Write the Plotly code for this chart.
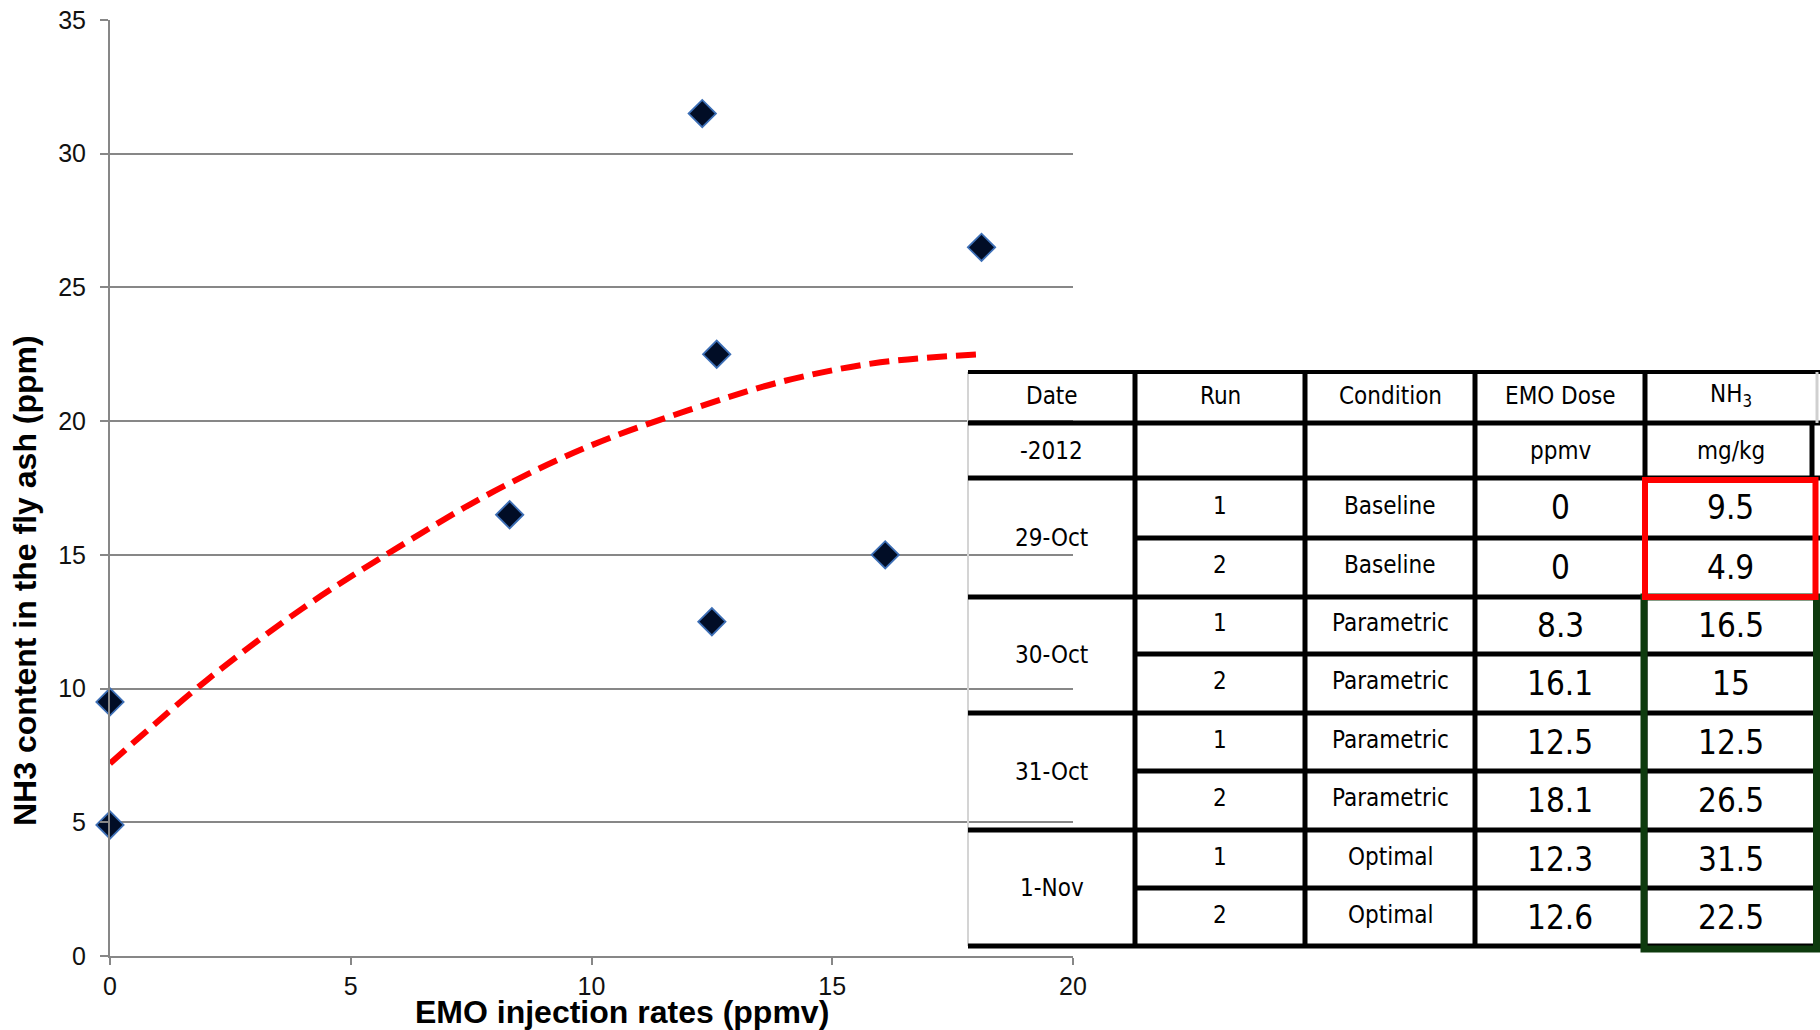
import plotly.graph_objects as go

# ---------------- data ----------------
emo_dose = [0, 0, 8.3, 16.1, 12.5, 18.1, 12.3, 12.6]
nh3_ash = [9.5, 4.9, 16.5, 15, 12.5, 26.5, 31.5, 22.5]

# polynomial trendline
trend_x = [0, 2, 4, 6, 8, 10, 12, 14, 16, 18.1]
trend_y = [7.2, 10.3, 13.0, 15.3, 17.4, 19.1, 20.4, 21.5, 22.2, 22.5]

x_ticks = [0, 5, 10, 15, 20]
y_ticks = [0, 5, 10, 15, 20, 25, 30, 35]

table_header = ["Date", "Run", "Condition", "EMO Dose", "NH<sub>3</sub>"]
table_units = ["-2012", "", "", "ppmv", "mg/kg"]
dates = ["29-Oct", "30-Oct", "31-Oct", "1-Nov"]
runs = [1, 2, 1, 2, 1, 2, 1, 2]
conditions = ["Baseline", "Baseline", "Parametric", "Parametric",
              "Parametric", "Parametric", "Optimal", "Optimal"]

# ---------------- geometry (pixels) ----------------
W, H = 1820, 1030
PL, PR, PT, PB = 110, 1073, 20, 956


def px(x):
    return (x - PL) / (PR - PL)


def py(y):
    return (PB - y) / (PB - PT)


fig = go.Figure()

fig.add_trace(go.Scatter(
    x=trend_x, y=trend_y, mode="lines", line_shape="spline",
    line=dict(color="#ff0000", width=6, dash="20px,9px"),
    hoverinfo="skip",
))
fig.add_trace(go.Scatter(
    x=emo_dose, y=nh3_ash, mode="markers", cliponaxis=False,
    marker=dict(symbol="diamond", size=21, color="#010d26",
                line=dict(color="#3d6fb6", width=1.8)),
))

AX = "#878787"
fig.update_layout(
    width=W, height=H,
    margin=dict(l=PL, r=W - PR, t=PT, b=H - PB, autoexpand=False),
    plot_bgcolor="white", paper_bgcolor="white",
    showlegend=False,
    font=dict(family="Liberation Sans, Arial, sans-serif", color="#000"),
    xaxis=dict(range=[0, 20], tickvals=x_ticks, showgrid=False, zeroline=False,
               showline=True, linecolor=AX, linewidth=2, automargin=False,
               ticks="outside", ticklen=7, tickcolor=AX, tickwidth=2,
               tickfont=dict(size=25, color="#111")),
    yaxis=dict(range=[0, 35], tickvals=y_ticks, showgrid=True, gridcolor=AX,
               gridwidth=2, zeroline=False, showline=True, linecolor=AX,
               linewidth=2, ticks="outside", ticklen=8, tickcolor=AX,
               tickwidth=2, ticklabelstandoff=9, automargin=False,
               tickfont=dict(size=25, color="#111")),
)

# axis titles
fig.add_annotation(text="<b>EMO injection rates (ppmv)</b>", xref="paper", yref="paper",
                   x=px(622), y=py(1012), showarrow=False,
                   xanchor="center", yanchor="middle",
                   font=dict(size=32, family="Liberation Sans, Arial, sans-serif", color="#000"))
fig.add_annotation(text="<b>NH3 content in the fly ash (ppm)</b>", xref="paper", yref="paper",
                   x=px(25), y=py(581), showarrow=False, textangle=-90,
                   xanchor="center", yanchor="middle",
                   font=dict(size=32, family="Liberation Sans, Arial, sans-serif", color="#000"))

# ---------------- table ----------------
NARROW = "Liberation Sans Narrow, Arial Narrow, DejaVu Sans Condensed, Liberation Sans, sans-serif"
col_x = [968, 1135, 1305, 1475, 1645, 1816]
row_y = [372, 423, 478, 538, 597, 654, 713, 771, 830, 888, 946]
LW = 5

shapes = []


def hline(x0, x1, y, color="black", w=LW):
    shapes.append(dict(type="line", xref="paper", yref="paper",
                       x0=px(x0), x1=px(x1), y0=py(y), y1=py(y),
                       line=dict(color=color, width=w), layer="above"))


def vline(x, y0, y1, color="black", w=LW):
    shapes.append(dict(type="line", xref="paper", yref="paper",
                       x0=px(x), x1=px(x), y0=py(y0), y1=py(y1),
                       line=dict(color=color, width=w), layer="above"))


# left light border
vline(col_x[0], row_y[0], row_y[-1], color="#d4d4d4", w=2)
# horizontal lines
hline(col_x[0], W, row_y[0], w=4)
hline(col_x[0], W, row_y[1])
for i in range(2, len(row_y)):
    if (i - 2) % 2 == 0:
        hline(col_x[0], W, row_y[i])
    else:
        hline(col_x[1], W, row_y[i])
# inner vertical lines
for cx in col_x[1:5]:
    vline(cx, row_y[0] - 2, row_y[-1] + 2)
# right border
vline(1817, row_y[0], row_y[1], color="#d0d0d0", w=3)
vline(1812, row_y[1], row_y[2])

# highlight boxes
shapes.append(dict(type="rect", xref="paper", yref="paper",
                   x0=px(1644), x1=px(1816.5), y0=py(597), y1=py(949),
                   line=dict(color="#0e3b0e", width=7), layer="above"))
shapes.append(dict(type="rect", xref="paper", yref="paper",
                   x0=px(1645), x1=px(1815.5), y0=py(480), y1=py(597),
                   line=dict(color="#ff0000", width=6), layer="above"))
fig.update_layout(shapes=shapes)

col_c = [(col_x[i] + col_x[i + 1]) / 2 for i in range(5)]


def txt(s, x, y, size=24):
    fig.add_annotation(text=s, xref="paper", yref="paper", x=px(x), y=py(y),
                       showarrow=False, xanchor="center", yanchor="middle",
                       font=dict(size=size, family=NARROW, color="#000"))


for i, s in enumerate(table_header):
    txt(s, col_c[i], (row_y[0] + row_y[1]) / 2 - 2)
for i, s in enumerate(table_units):
    if s:
        txt(s, col_c[i], (row_y[1] + row_y[2]) / 2)
for g, d in enumerate(dates):
    txt(d, col_c[0], (row_y[2 + 2 * g] + row_y[4 + 2 * g]) / 2)
for r in range(8):
    yc = (row_y[2 + r] + row_y[3 + r]) / 2
    txt(str(runs[r]), col_c[1], yc - 2)
    txt(conditions[r], col_c[2], yc - 2)
    txt(f"{emo_dose[r]:g}", col_c[3], yc, size=33)
    txt(f"{nh3_ash[r]:g}", col_c[4], yc, size=33)

fig.write_html(
    "out.html",
    config={"displayModeBar": False},
    post_script="document.body.style.margin='0px';document.body.style.overflow='hidden';",
)
